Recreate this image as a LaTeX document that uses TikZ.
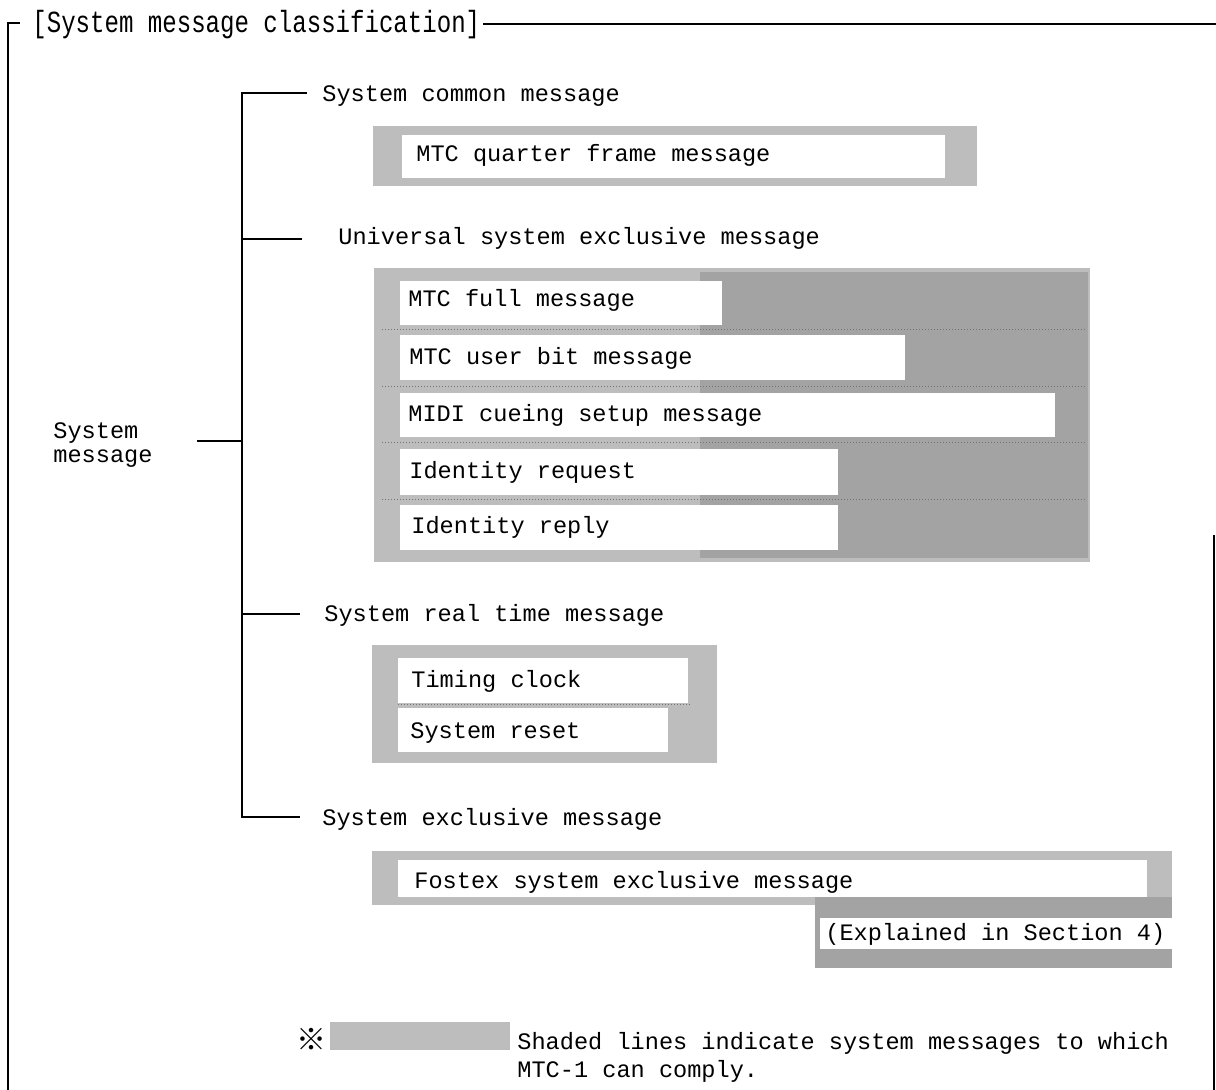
\documentclass[tikz,border=0pt]{standalone}
\usepackage{fontspec}
\setmonofont{Liberation Mono}
\newfontfamily\refmarkfont{Noto Sans CJK JP}
\begin{document}
\begin{tikzpicture}[x=0.5pt,y=-0.5pt,
  lbl/.style={inner sep=0pt, anchor=base west, yshift=-1pt,
    font=\ttfamily\fontsize{11.8pt}{12pt}\selectfont},
  rule/.style={line width=1pt, black},
  shadeA/.style={fill=black!26},
  shadeB/.style={fill=black!36},
  row/.style={fill=white},
  sep/.style={black!55, densely dotted, line width=0.5pt}]
\useasboundingbox (0,0) rectangle (1216,1090);

% ---- outer frame with title ----
\node[lbl] (title) at (32,31) {\scalebox{1.02}[1.3]{[System message classification]}};
\coordinate (fTL) at (8,23);
\coordinate (fBL) at (8,1090);
\coordinate (fTick) at (20,23);
\coordinate (fTS) at (483,24);
\coordinate (fTR) at (1216,24);
\coordinate (fRT) at (1214,535);
\coordinate (fRB) at (1214,1090);
\draw[rule] (fBL) -- (fTL) -- (fTick);
\draw[rule] (fTS) -- (fTR);
\draw[rule] (fRT) -- (fRB);

% ---- classification tree ----
\node[lbl, align=left] (sysmsg) at (53,461) {System\\message};
\node[lbl] (common) at (322,100) {System common message};
\node[lbl] (univ)   at (338,243) {Universal system exclusive message};
\node[lbl] (real)   at (324,620) {System real time message};
\node[lbl] (excl)   at (322,823) {System exclusive message};

\coordinate (trTop) at (242,93);
\coordinate (trU)   at (242,239);
\coordinate (trM)   at (242,441);
\coordinate (trR)   at (242,614);
\coordinate (trBot) at (242,817);
\coordinate (smOut) at (197,441);
\coordinate (eCommon) at (307,93);
\coordinate (eUniv)   at (302,239);
\coordinate (eReal)   at (300,614);
\coordinate (eExcl)   at (300,817);

\draw[rule] (eCommon) -- (trTop) -- (trBot) -- (eExcl);
\draw[rule] (trU) -- (eUniv);
\draw[rule] (trR) -- (eReal);
\draw[rule] (smOut) -- (trM);

% ---- system common message ----
\fill[shadeA] (373,126) rectangle (977,186);
\fill[row] (402,135) rectangle (945,178);
\node[lbl] (mtcq) at (416,160) {MTC quarter frame message};

% ---- universal system exclusive message ----
\fill[shadeA] (374,268) rectangle (1090,562);
\fill[shadeB] (700,272) rectangle (1088,558);
\fill[row] (400,281) rectangle (722,325);
\fill[row] (400,335) rectangle (905,380);
\fill[row] (400,393) rectangle (1055,437);
\fill[row] (400,449) rectangle (838,495);
\fill[row] (400,505) rectangle (838,550);
\draw[sep] (382,330) -- (1085,330);
\draw[sep] (382,387) -- (1085,387);
\draw[sep] (382,443) -- (1085,443);
\draw[sep] (382,500) -- (1085,500);
\node[lbl] (mtcf) at (408,305) {MTC full message};
\node[lbl] (mtcu) at (409,363) {MTC user bit message};
\node[lbl] (midi) at (408,420) {MIDI cueing setup message};
\node[lbl] (idrq) at (409,477) {Identity request};
\node[lbl] (idrp) at (411,532) {Identity reply};

% ---- system real time message ----
\fill[shadeA] (372,645) rectangle (717,763);
\fill[row] (398,658) rectangle (688,703);
\fill[row] (398,708) rectangle (668,752);
\draw[sep] (398,705) -- (690,705);
\node[lbl] (clock) at (411,686) {Timing clock};
\node[lbl] (reset) at (410,737) {System reset};

% ---- system exclusive message ----
\fill[shadeA] (372,851) rectangle (1172,905);
\fill[shadeB] (815,897) rectangle (1172,968);
\fill[row] (398,860) rectangle (1147,897);
\fill[row] (820,918) rectangle (1172,949);
\node[lbl] (fostex) at (414,886) {Fostex system exclusive message};
\node[lbl] (sect) at (825,938) {(Explained in Section 4)};

% ---- legend ----
\node[inner sep=0pt, font=\refmarkfont\fontsize{15pt}{15pt}\selectfont] (mark) at (311,1039) {※};
\fill[shadeA] (330,1022) rectangle (510,1050);
\node[lbl] (note1) at (517,1047) {Shaded lines indicate system messages to which};
\node[lbl] (note2) at (517,1075) {MTC-1 can comply.};
\end{tikzpicture}
\end{document}
